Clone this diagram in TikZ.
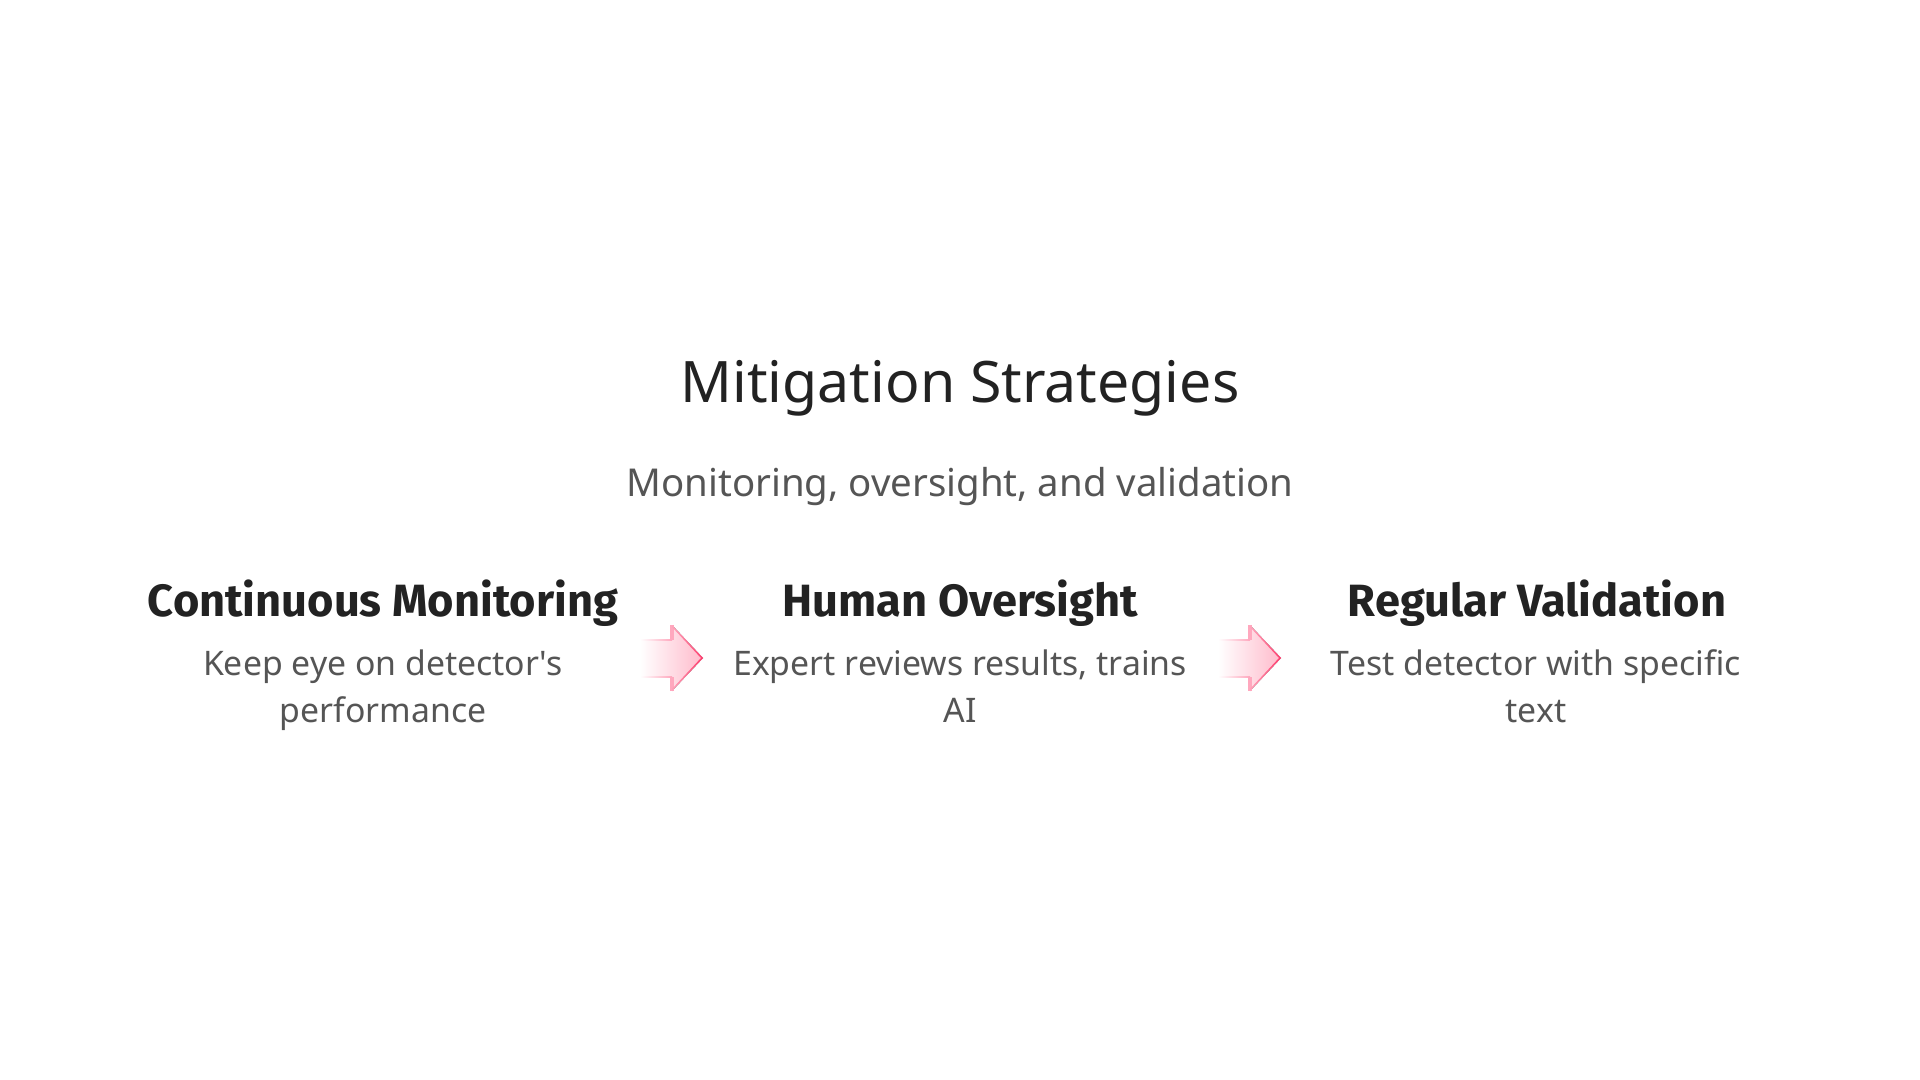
\documentclass[tikz,border=0pt]{standalone}
\usepackage{fontspec}
\setmainfont{Noto Sans}
\newfontfamily\headfont{Fira Sans}
\definecolor{titlec}{HTML}{222222}
\definecolor{subc}{HTML}{555555}
\definecolor{arrowc}{HTML}{FF3D6E}
\definecolor{arrowfill}{HTML}{FFBACB}
\begin{document}
\begin{tikzpicture}[x=0.5pt,y=-0.5pt,
  titlestyle/.style={anchor=base, text=titlec, font=\fontsize{28.6pt}{34pt}\selectfont, inner sep=0pt},
  substyle/.style={anchor=base, text=subc, font=\fontsize{19.2pt}{23pt}\selectfont, inner sep=0pt},
  headstyle/.style={anchor=base, text=titlec, font=\headfont\bfseries\fontsize{22.6pt}{27pt}\selectfont, inner sep=0pt},
  descstyle/.style={anchor=base, text=subc, font=\fontsize{16.9pt}{23.5pt}\selectfont, inner sep=0pt},
  arrowshape/.pic={
    \fill[left color=white, right color=arrowfill]
      (-32,-18) -- (0,-18) -- (0,-33) -- (31,0) -- (0,33) -- (0,19) -- (-32,19) -- cycle;
    \fill[left color=white, right color=arrowc!45] (-32,-18.8) rectangle (0,-17.2);
    \fill[left color=white, right color=arrowc!45] (-32,18.2) rectangle (0,19.8);
    \draw[arrowc!45, line width=1.6] (0,-18) -- (0,-33);
    \draw[arrowc!45, line width=1.6] (0,19) -- (0,33);
    \shade[top color=arrowc!45, bottom color=arrowc] (0,-33) -- (31,0) -- (29,0) -- (0,-31) -- cycle;
    \shade[bottom color=arrowc!45, top color=arrowc] (0,33) -- (31,0) -- (29,0) -- (0,31) -- cycle;
  }]
\useasboundingbox (0,0) rectangle (1920,1080);
\node[titlestyle] (title) at (960,402) {Mitigation Strategies};
\node[substyle] (sub) at (960,496) {Monitoring, oversight, and validation};

\node[headstyle] (h1) at (383,616) {Continuous Monitoring};
\node[headstyle] (h2) at (960,616) {Human Oversight};
\node[headstyle] (h3) at (1537,616) {Regular Validation};

\node[descstyle] (d1a) at (383,675) {Keep eye on detector\textquotesingle s};
\node[descstyle] (d1b) at (383,722) {performance};
\node[descstyle] (d2a) at (960,675) {Expert reviews results, trains};
\node[descstyle] (d2b) at (960,722) {AI};
\node[descstyle] (d3a) at (1536,675) {Test detector with specific};
\node[descstyle] (d3b) at (1536,722) {text};

\coordinate (a1) at (672,658);
\coordinate (a2) at (1250,658);
\pic at (a1) {arrowshape};
\pic at (a2) {arrowshape};
\end{tikzpicture}
\end{document}
